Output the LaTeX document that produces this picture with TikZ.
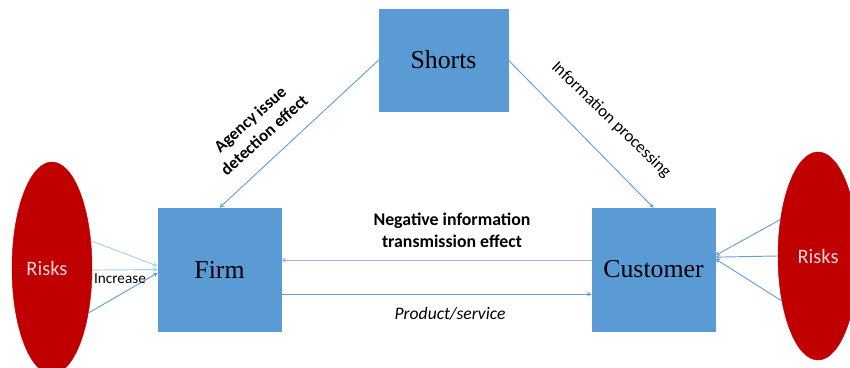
\documentclass[tikz,border=0pt]{standalone}
\usepackage{fontspec}
\setmainfont{Liberation Serif}
\newfontfamily\carlito{Carlito}
\usetikzlibrary{shapes.geometric}
\tikzset{>=stealth}
\definecolor{boxblue}{RGB}{91,155,213}
\definecolor{riskred}{RGB}{192,0,0}
\definecolor{linkblue}{RGB}{100,160,215}
\definecolor{paleblue}{RGB}{170,205,235}
\definecolor{lilac}{RGB}{172,172,245}
\definecolor{risktext}{RGB}{245,215,215}
\tikzset{
  party/.style={draw=boxblue, fill=boxblue, font=\fontsize{22}{26}\selectfont},
  risk/.style={ellipse, draw=riskred, fill=riskred, minimum width=2.4cm, inner sep=0pt},
  risklab/.style={text=risktext, font=\carlito\fontsize{17.5}{20}\selectfont},
  lab/.style={font=\carlito\fontsize{14.5}{18}\selectfont, align=center},
  boldlab/.style={font=\carlito\bfseries\fontsize{15.2}{18.5}\selectfont, align=center},
}

\begin{document}
\begin{tikzpicture}
  \useasboundingbox (0,0) rectangle (25.5,11.04);
  % the three parties
  \node[party, minimum width=3.87cm, minimum height=3.06cm] (shorts) at (13.305,9.24) {Shorts};
  \node[party, minimum size=3.69cm] (firm) at (6.585,2.955) {Firm};
  \node[party, minimum size=3.69cm] (customer) at (19.605,2.955) {Customer};
  % risk sources on both sides
  \node[risk, minimum height=6.36cm] (risksL) at (1.56,3.0) {};
  \node[risk, minimum height=6.24cm] (risksR) at (24.54,3.36) {};
  \node[risklab] (risksLtext) at ([xshift=-0.15cm]risksL.center) {Risks};
  \node[risklab] (risksRtext) at (risksR.center) {Risks};
  \begin{scope}[->, line width=0.8pt, draw=linkblue]
    \draw (shorts.west) -- (firm.north);
    \draw (shorts.east) -- (customer.north);
    \draw[lilac] ([yshift=0.28cm]customer.west) -- ([yshift=0.28cm]firm.east);
    \draw ([yshift=-0.74cm]firm.east) -- ([yshift=-0.74cm]customer.west);
    \draw[paleblue] (risksL.35) -- ([yshift=0.1cm]firm.west);
    \draw[paleblue] (risksL.-3) -- (firm.west);
    \draw (risksL.-51) -- ([yshift=-0.1cm]firm.west);
    \draw (risksR.136) -- ([yshift=0.42cm]customer.east);
    \draw (risksR.180) -- ([yshift=0.37cm]customer.east);
    \draw (risksR.231) -- ([yshift=0.32cm]customer.east);
  \end{scope}
  % labels
  \node[boldlab, font=\carlito\bfseries\fontsize{14.5}{18}\selectfont, rotate=42] (agency) at (7.71,7.23) {Agency issue\\detection effect};
  \node[lab, rotate=-44] (processing) at (18.33,7.44) {Information processing};
  \node[boldlab] (negative) at (13.56,4.14) {Negative information\\transmission effect};
  \node[lab, font=\carlito\itshape\fontsize{15}{18}\selectfont] (product) at (13.5,1.62) {Product/service};
  \node[lab, font=\carlito\fontsize{13}{15}\selectfont] (increase) at (3.6,2.67) {Increase};
\end{tikzpicture}
\end{document}
